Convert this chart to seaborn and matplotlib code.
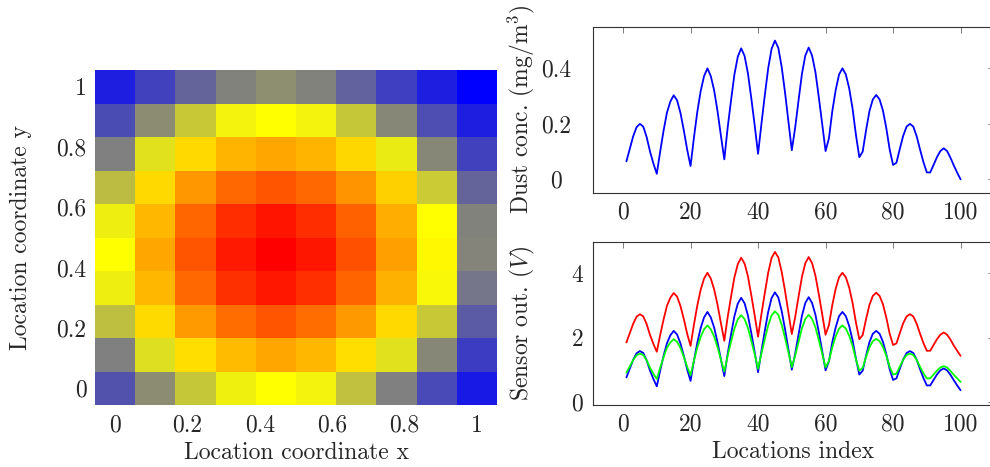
import numpy as np
import pandas as pd
import matplotlib
matplotlib.use('Agg')
import matplotlib.pyplot as plt
from matplotlib.colors import LinearSegmentedColormap
import seaborn as sns

# dust concentration at the 100 locations (10 x 10 grid, row by row from y=0)
dust = [0.065, 0.11, 0.155, 0.188, 0.200, 0.19, 0.152, 0.10, 0.057, 0.02,
        0.10, 0.175, 0.24, 0.28, 0.303, 0.285, 0.24, 0.177, 0.107, 0.048,
        0.15, 0.243, 0.318, 0.372, 0.400, 0.372, 0.32, 0.245, 0.157, 0.072,
        0.187, 0.285, 0.378, 0.442, 0.472, 0.445, 0.382, 0.292, 0.195, 0.092,
        0.20, 0.303, 0.40, 0.47, 0.50, 0.474, 0.405, 0.312, 0.208, 0.105,
        0.187, 0.285, 0.38, 0.446, 0.475, 0.446, 0.386, 0.296, 0.20, 0.102,
        0.148, 0.246, 0.322, 0.378, 0.400, 0.378, 0.328, 0.255, 0.16, 0.08,
        0.10, 0.177, 0.246, 0.288, 0.304, 0.288, 0.248, 0.184, 0.107, 0.052,
        0.06, 0.11, 0.157, 0.19, 0.20, 0.19, 0.155, 0.107, 0.062, 0.025,
        0.025, 0.052, 0.08, 0.102, 0.112, 0.102, 0.078, 0.05, 0.024, 0.0]

# sensor outputs (V)
sensor_red = [1.85, 2.14, 2.43, 2.65, 2.73, 2.66, 2.42, 2.08, 1.80, 1.56,
              2.08, 2.56, 2.99, 3.24, 3.39, 3.28, 2.99, 2.58, 2.12, 1.74,
              2.40, 3.00, 3.49, 3.84, 4.02, 3.84, 3.50, 3.02, 2.45, 1.90,
              2.64, 3.28, 3.88, 4.29, 4.49, 4.31, 3.91, 3.32, 2.69, 2.03,
              2.73, 3.39, 4.02, 4.48, 4.67, 4.50, 4.05, 3.45, 2.78, 2.11,
              2.64, 3.28, 3.89, 4.32, 4.51, 4.32, 3.93, 3.35, 2.73, 2.09,
              2.39, 3.02, 3.52, 3.88, 4.02, 3.88, 3.56, 3.08, 2.47, 1.95,
              2.08, 2.58, 3.02, 3.30, 3.40, 3.30, 3.04, 2.62, 2.12, 1.77,
              1.82, 2.14, 2.45, 2.66, 2.73, 2.66, 2.43, 2.12, 1.83, 1.59,
              1.59, 1.77, 1.95, 2.09, 2.16, 2.09, 1.94, 1.75, 1.59, 1.43]

sensor_blue = [0.76, 1.03, 1.31, 1.51, 1.58, 1.52, 1.29, 0.97, 0.71, 0.48,
               0.97, 1.43, 1.82, 2.07, 2.21, 2.10, 1.82, 1.44, 1.01, 0.65,
               1.28, 1.84, 2.30, 2.63, 2.80, 2.63, 2.31, 1.85, 1.32, 0.80,
               1.50, 2.10, 2.67, 3.06, 3.24, 3.07, 2.69, 2.14, 1.55, 0.92,
               1.58, 2.21, 2.80, 3.23, 3.41, 3.25, 2.83, 2.26, 1.63, 1.00,
               1.50, 2.10, 2.68, 3.08, 3.26, 3.08, 2.71, 2.17, 1.58, 0.98,
               1.26, 1.86, 2.32, 2.67, 2.80, 2.67, 2.36, 1.92, 1.34, 0.85,
               0.97, 1.44, 1.86, 2.12, 2.21, 2.12, 1.87, 1.48, 1.01, 0.68,
               0.73, 1.03, 1.32, 1.52, 1.58, 1.52, 1.31, 1.01, 0.74, 0.51,
               0.51, 0.68, 0.85, 0.98, 1.04, 0.98, 0.84, 0.67, 0.51, 0.36]

sensor_green = [0.91, 1.10, 1.30, 1.45, 1.50, 1.46, 1.29, 1.06, 0.87, 0.71,
                1.06, 1.39, 1.68, 1.85, 1.95, 1.87, 1.68, 1.40, 1.09, 0.83,
                1.28, 1.69, 2.02, 2.26, 2.38, 2.26, 2.03, 1.70, 1.31, 0.94,
                1.44, 1.87, 2.28, 2.57, 2.70, 2.58, 2.30, 1.90, 1.48, 1.03,
                1.50, 1.95, 2.38, 2.69, 2.82, 2.71, 2.40, 1.99, 1.54, 1.08,
                1.44, 1.87, 2.29, 2.58, 2.71, 2.58, 2.32, 1.92, 1.50, 1.07,
                1.27, 1.70, 2.04, 2.28, 2.38, 2.28, 2.06, 1.74, 1.32, 0.97,
                1.06, 1.40, 1.70, 1.89, 1.96, 1.89, 1.71, 1.43, 1.09, 0.85,
                0.88, 1.10, 1.31, 1.46, 1.50, 1.46, 1.30, 1.09, 0.89, 0.73,
                0.73, 0.85, 0.97, 1.07, 1.11, 1.07, 0.96, 0.84, 0.73, 0.62]

coord_ticks = [0, 0.2, 0.4, 0.6, 0.8, 1]
coord_labels = ['0', '0.2', '0.4', '0.6', '0.8', '1']

sns.set_style('white')
plt.rcParams['font.family'] = ['cmr10', 'DejaVu Serif']
plt.rcParams['mathtext.fontset'] = 'cm'
plt.rcParams['axes.unicode_minus'] = False
FS = 17

# pgfplots "hot"-like colormap: blue -> yellow -> orange -> red
cmap = LinearSegmentedColormap.from_list(
    'pgf_hot', [(0.0, (0, 0, 1)), (0.4, (1, 1, 0)), (0.7, (1, 0.5, 0)), (1.0, (1, 0, 0))])

fig = plt.figure(figsize=(9.9, 4.67), dpi=100)

# ---- heatmap ----
grid = np.array(dust).reshape(10, 10)[::-1]   # top row is y = 1
grid_df = pd.DataFrame(grid)
ax_map = fig.add_axes([95 / 990, 1 - 405 / 467, 402 / 990, 335 / 467])
sns.heatmap(grid_df, ax=ax_map, cmap=cmap, vmin=0, vmax=0.5, cbar=False,
            xticklabels=False, yticklabels=False)
ax_map.set_xticks([0.5 + 9 * v for v in coord_ticks])
ax_map.set_xticklabels(coord_labels, fontsize=FS)
ax_map.set_yticks([9.5 - 9 * v for v in coord_ticks])
ax_map.set_yticklabels(coord_labels, fontsize=FS, rotation=0)
ax_map.tick_params(axis='x', length=0, pad=7)
ax_map.tick_params(axis='y', length=0, pad=6)
ax_map.set_xlabel('Location coordinate x', fontsize=FS)
ax_map.set_ylabel('Location coordinate y', fontsize=FS)
ax_map.xaxis.set_label_coords(0.5, -0.11)
ax_map.yaxis.set_label_coords(-0.156, 0.5)
for s in ax_map.spines.values():
    s.set_visible(False)

# ---- line plots ----
idx = np.arange(1, 101)
x_ticks = [0, 20, 40, 60, 80, 100]


def style_axis(ax, yticks, ylabels):
    ax.set_xlim(-8.9, 109.9)
    ax.set_xticks(x_ticks)
    ax.set_xticklabels([str(t) for t in x_ticks], fontsize=FS)
    ax.set_yticks(yticks)
    ax.set_yticklabels(ylabels, fontsize=FS)
    ax.tick_params(direction='in', length=4, width=0.6, color='#666666',
                   top=True, right=True)
    ax.tick_params(axis='x', pad=6)
    for s in ax.spines.values():
        s.set_color('#333333')
        s.set_linewidth(0.8)
    ax.grid(False)


ax_top = fig.add_axes([593 / 990, 1 - 192.7 / 467, 401 / 990, 166 / 467])
sns.lineplot(x=idx, y=dust, ax=ax_top, color=(0, 0, 1), linewidth=1.3)
ax_top.set_ylim(-0.048, 0.55)
style_axis(ax_top, [0, 0.2, 0.4], ['0', '0.2', '0.4'])
ax_top.tick_params(axis='y', pad=26.5)
for lbl in ax_top.get_yticklabels():
    lbl.set_horizontalalignment('center')
ax_top.set_ylabel(r'Dust conc. (mg/m$^3$)', fontsize=FS)
ax_top.yaxis.set_label_coords(-0.14, 0.5)

ax_bot = fig.add_axes([593 / 990, 1 - 405 / 467, 401 / 990, 162.7 / 467])
sns.lineplot(x=idx, y=sensor_red, ax=ax_bot, color=(1, 0, 0), linewidth=1.3)
sns.lineplot(x=idx, y=sensor_blue, ax=ax_bot, color=(0, 0, 1), linewidth=1.3)
sns.lineplot(x=idx, y=sensor_green, ax=ax_bot, color=(0, 1, 0), linewidth=1.3)
ax_bot.set_ylim(-0.1, 4.97)
style_axis(ax_bot, [0, 2, 4], ['0', '2', '4'])
ax_bot.tick_params(axis='y', pad=7)
ax_bot.set_ylabel(r'Sensor out. ($V$)', fontsize=FS)
ax_bot.yaxis.set_label_coords(-0.14, 0.5)
ax_bot.set_xlabel('Locations index', fontsize=FS)
ax_bot.xaxis.set_label_coords(0.5, -0.22)

fig.savefig('out.png', dpi=100)
